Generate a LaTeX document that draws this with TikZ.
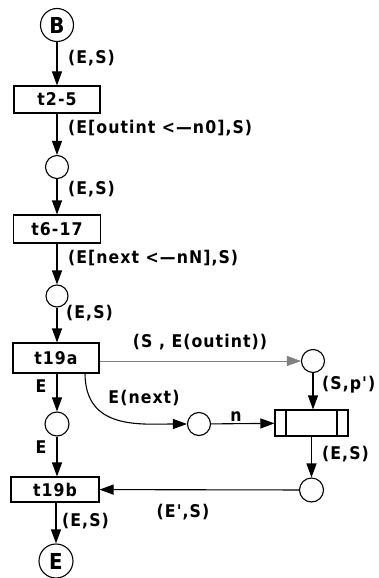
\documentclass[tikz,border=0pt]{standalone}
\usepackage{fontspec}
\newfontfamily\labfont[LetterSpace=6]{DejaVu Sans Condensed Bold}
\usetikzlibrary{arrows.meta}
\begin{document}
\begin{tikzpicture}[x=1pt,y=-1pt,
  every node/.style={font=\labfont\fontsize{17.5}{17.5}\selectfont, inner sep=0pt},
  place/.style={draw, circle, line width=1.1pt, minimum size=#1},
  endplace/.style={place=#1, font=\labfont\fontsize{22}{22}\selectfont},
  trans/.style={draw, rectangle, line width=1.1pt},
  arc/.style={line width=1.1pt, -{Triangle[length=14pt,width=10pt]}},
  lab/.style={anchor=west}]
\useasboundingbox (0,0) rectangle (378,578);
\node[endplace=33pt] (B) at (57,25) {B};
\node[trans, minimum width=86pt, minimum height=27pt] (t25) at (57,99.5) {t2-5};
\node[place=23pt] (p1) at (57,167) {};
\node[trans, minimum width=87pt, minimum height=28pt] (t617) at (57,229) {t6-17};
\node[place=22pt] (p2) at (57,296) {};
\node[trans, minimum width=86pt, minimum height=30pt] (t19a) at (56,358) {t19a};
\node[place=23pt] (p3) at (313,361) {};
\node[trans, minimum width=73pt, minimum height=26pt] (r) at (311.5,423) {};
\draw[line width=1.1pt] (286,410) -- (286,436);
\draw[line width=1.1pt] (337,410) -- (337,436);
\node[place=23pt] (pn) at (199,424) {};
\node[place=24pt] (pl) at (57,424) {};
\node[place=24pt] (pr) at (311.5,490) {};
\node[trans, minimum width=88pt, minimum height=25pt] (t19b) at (55,489.5) {t19b};
\node[endplace=34pt] (Ee) at (56,561) {E};

\draw[arc] (B) -- (B |- t25.north);
\draw[arc] (t25) -- (p1);
\draw[arc] (p1) -- (p1 |- t617.north);
\draw[arc] (t617) -- (p2);
\draw[arc] (p2) -- (p2 |- t19a.north);
\draw[arc] (t19a.south -| pl) -- (pl);
\draw[arc] (pl) -- (pl |- t19b.north);
\draw[arc, line width=0.5pt, gray] (t19a.east |- p3) -- (p3);
\draw[arc] (p3) -- (p3 |- r.north);
\coordinate (cs) at (85,373);
\draw[arc] (cs) .. controls (85,430) and (140,424) .. (pn);
\draw[arc] (pn) -- (r);
\draw[arc] (r.south -| pr) -- (pr);
\draw[arc] (pr) -- (t19b);
\draw[arc] (t19b.south -| Ee) -- (Ee);

\node[lab] (l1) at (68,58) {(E,S)};
\node[lab] (l2) at (68,128) {(E[outint <—n0],S)};
\node[lab] (l3) at (68,189) {(E,S)};
\node[lab] (l4) at (68,258) {(E[next <—nN],S)};
\node[lab] (l5) at (66,313) {(E,S)};
\node (l6) at (200,342) {(S , E(outint))};
\node[lab] (l7) at (322,385) {(S,p')};
\node (l8) at (41,386) {E};
\node (l9) at (144,398) {E(next)};
\node (l10) at (236,417) {n};
\node (l11) at (41,447) {E};
\node[lab] (l12) at (322,454) {(E,S)};
\node (l13) at (183,512) {(E',S)};
\node[lab] (l14) at (62,521) {(E,S)};
\end{tikzpicture}
\end{document}
